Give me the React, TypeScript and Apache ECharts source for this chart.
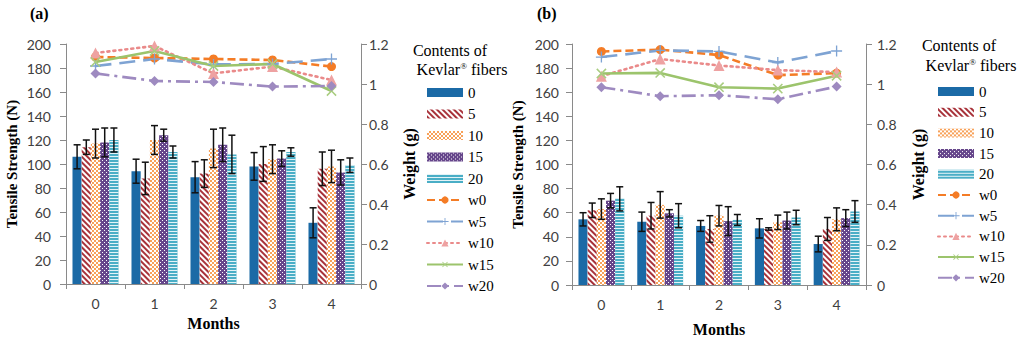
import React, { useEffect, useRef } from 'react';
import * as echarts from 'echarts';

// ---------- data ----------
const months = ['0', '1', '2', '3', '4'];
const barNames = ['0', '5', '10', '15', '20'];
const lineNames = ['w0', 'w5', 'w10', 'w15', 'w20'];

// Panel (a) tensile strength (N) and error half-widths
const aTs0 = [106, 94, 89, 98, 51];
const aTs5 = [114, 88, 92, 100, 96];
const aTs10 = [117, 120, 113, 104, 98];
const aTs15 = [118, 124, 116, 104.5, 93];
const aTs20 = [120, 110, 108, 110, 99];
const aErr0 = [10, 10, 13, 11.5, 12.5];
const aErr5 = [6, 13.5, 11.5, 14.5, 14];
const aErr10 = [12, 12, 16, 12, 13.5];
const aErr15 = [12, 5, 14, 6.5, 10.5];
const aErr20 = [10, 5, 16, 3.5, 6];
// Panel (a) weights (g)
const aW0 = [1.135, 1.13, 1.125, 1.12, 1.087];
const aW5 = [1.09, 1.125, 1.098, 1.1, 1.125];
const aW10 = [1.155, 1.19, 1.053, 1.087, 1.02];
const aW15 = [1.11, 1.165, 1.09, 1.1, 0.965];
const aW20 = [1.053, 1.015, 1.01, 0.987, 0.99];

// Panel (b)
const bTs0 = [54.5, 52.5, 49, 47, 34];
const bTs5 = [62, 57.5, 46.5, 46.5, 46.5];
const bTs10 = [63, 66.5, 57.5, 52, 54.5];
const bTs15 = [70, 59.5, 53, 53.5, 55.5];
const bTs20 = [71.5, 57.5, 54, 56, 61];
const bErr0 = [5.5, 8, 4.5, 8, 6.5];
const bErr5 = [6, 11, 11, 1, 9.5];
const bErr10 = [8.5, 11, 8.5, 6, 9.5];
const bErr15 = [6, 3, 12, 7, 7];
const bErr20 = [10, 10, 4.5, 6, 9];
const bW0 = [1.163, 1.172, 1.145, 1.045, 1.055];
const bW5 = [1.135, 1.168, 1.163, 1.108, 1.165];
const bW10 = [1.04, 1.125, 1.093, 1.07, 1.06];
const bW15 = [1.053, 1.056, 0.985, 0.978, 1.042];
const bW20 = [0.985, 0.94, 0.945, 0.925, 0.988];

const tsTicks = [0, 200, 20];
const wTicks = [0, 1.2, 0.2];

// ---------- styles ----------
const serif = 'Liberation Serif';
const sans = 'Lato';
const axisGray = '#8a8a8a';
const labelColor = '#404040';

const barColors = ['#1b6aa6', '#ffffff', '#ffffff', '#66468b', '#4aaec6'];
const barDecals: any[] = [
  null,
  { symbol: 'rect', symbolKeepAspect: false, symbolSize: 1, color: '#a8323a', dashArrayX: [1, 0], dashArrayY: [2, 2], rotation: Math.PI / 4 },
  { symbol: 'rect', symbolKeepAspect: false, symbolSize: 1, color: '#f8a25a', dashArrayX: [[2, 2], [0, 2, 2, 0]], dashArrayY: [2, 0] },
  { symbol: 'rect', symbolKeepAspect: false, symbolSize: 1, color: '#ffffff', dashArrayX: [[1, 3], [0, 2, 1, 1]], dashArrayY: [1, 1] },
  { symbol: 'rect', symbolKeepAspect: false, symbolSize: 1, color: 'rgba(255,255,255,0.85)', dashArrayX: [1, 0], dashArrayY: [1, 2] },
];

const plusPath = 'path://M4.4,0H5.6V4.4H10V5.6H5.6V10H4.4V5.6H0V4.4H4.4Z';
const lineStyles: any[] = [
  { color: '#f47c26', type: [8, 4], symbol: 'circle', size: 9, rotate: 0, itemColor: '#f47c26' },
  { color: '#7ea3d3', type: [16, 8], symbol: plusPath, size: 11, rotate: 0, itemColor: '#7ea3d3' },
  { color: '#ea8a8a', type: [2, 4], symbol: 'triangle', size: 11, rotate: 0, itemColor: '#eea2a2' },
  { color: '#9cc46c', type: 'solid', symbol: plusPath, size: 13, rotate: 45, itemColor: '#a9cd80' },
  { color: '#9e8ac0', type: [14, 5, 3, 5], symbol: 'diamond', size: 10, rotate: 0, itemColor: '#9e8ac0' },
];

const BAR_GAP_CAT = 0.22;

function buildPanel(p: number, tensile: number[][], errs: number[][], weights: number[][]) {
  const series: any[] = [];
  tensile.forEach((vals, k) => {
    const itemStyle: any = { color: barColors[k] };
    if (barDecals[k]) itemStyle.decal = barDecals[k];
    series.push({
      type: 'bar',
      name: barNames[k],
      xAxisIndex: p,
      yAxisIndex: p * 2,
      data: vals,
      barGap: '0%',
      barCategoryGap: BAR_GAP_CAT * 100 + '%',
      itemStyle,
      emphasis: { disabled: true },
      z: 2,
    });
  });
  const errData: number[][] = [];
  tensile.forEach((vals, k) => {
    vals.forEach((v, i) => errData.push([i, k, v - errs[k][i], v + errs[k][i]]));
  });
  series.push({
    type: 'custom',
    name: 'err' + p,
    xAxisIndex: p,
    yAxisIndex: p * 2,
    data: errData,
    encode: { x: 0, y: [2, 3] },
    z: 5,
    silent: true,
    renderItem: (params: any, api: any) => {
      const cat = api.value(0);
      const k = api.value(1);
      const lo = api.value(2);
      const hi = api.value(3);
      const catW = api.size([1, 0])[0];
      const bw = (catW * (1 - BAR_GAP_CAT)) / 5;
      const cx = api.coord([cat, 0])[0] + (k - 2) * bw;
      const yLo = api.coord([cat, lo])[1];
      const yHi = api.coord([cat, hi])[1];
      const cap = 3.5;
      const st = { stroke: '#111', lineWidth: 1.5 };
      return {
        type: 'group',
        children: [
          { type: 'line', shape: { x1: cx, y1: yLo, x2: cx, y2: yHi }, style: st },
          { type: 'line', shape: { x1: cx - cap, y1: yLo, x2: cx + cap, y2: yLo }, style: st },
          { type: 'line', shape: { x1: cx - cap, y1: yHi, x2: cx + cap, y2: yHi }, style: st },
        ],
      };
    },
  });
  weights.forEach((vals, k) => {
    const s = lineStyles[k];
    series.push({
      type: 'line',
      name: lineNames[k],
      xAxisIndex: p,
      yAxisIndex: p * 2 + 1,
      data: vals,
      symbol: s.symbol,
      symbolSize: s.size,
      symbolRotate: s.rotate,
      lineStyle: { color: s.color, width: 2.6, type: s.type, cap: k === 2 ? 'round' : 'butt' },
      itemStyle: { color: s.itemColor, borderWidth: 0 },
      emphasis: { disabled: true },
      z: 6,
    });
  });
  return series;
}

function makeAxes(p: number, tsNameGap: number, wNameGap: number, monthsGap: number, rightMargin: number, leftMargin: number) {
  const axisLine = { show: true, lineStyle: { color: axisGray, width: 1 } };
  const axisTick = { show: true, length: 6, lineStyle: { color: axisGray } };
  const xAxis = {
    type: 'category',
    gridIndex: p,
    data: months,
    boundaryGap: true,
    axisLine,
    axisTick: { show: true, length: 5, alignWithLabel: false, lineStyle: { color: axisGray } },
    axisLabel: { fontFamily: sans, fontSize: 14, color: labelColor, margin: 12 },
    name: 'Months',
    nameLocation: 'middle',
    nameGap: monthsGap,
    nameTextStyle: { fontFamily: serif, fontSize: 16, fontWeight: 'bold', color: '#000' },
  };
  const yLeft = {
    type: 'value',
    gridIndex: p,
    min: tsTicks[0],
    max: tsTicks[1],
    interval: tsTicks[2],
    axisLine,
    axisTick,
    splitLine: { show: false },
    axisLabel: { fontFamily: sans, fontSize: 14, color: labelColor, margin: leftMargin },
    name: 'Tensile Strength (N)',
    nameLocation: 'middle',
    nameGap: tsNameGap,
    nameTextStyle: { fontFamily: serif, fontSize: 15, fontWeight: 'bold', color: '#000' },
  };
  const yRight = {
    type: 'value',
    gridIndex: p,
    position: 'right',
    min: wTicks[0],
    max: wTicks[1],
    interval: wTicks[2],
    axisLine,
    axisTick,
    splitLine: { show: false },
    axisLabel: { fontFamily: sans, fontSize: 14, color: labelColor, margin: rightMargin, formatter: (v: number) => String(Math.round(v * 10) / 10) },
    name: 'Weight (g)',
    nameLocation: 'middle',
    nameGap: wNameGap,
    nameRotate: 90,
    nameTextStyle: { fontFamily: serif, fontSize: 16, fontWeight: 'bold', color: '#000' },
  };
  return { xAxis, yAxes: [yLeft, yRight] };
}

function makeLegend(left: number, top: number, gap: number) {
  return {
    orient: 'vertical',
    left,
    top,
    padding: 0,
    itemWidth: 36,
    itemHeight: 9,
    itemGap: gap,
    selectedMode: false,
    data: [...barNames.map((n) => ({ name: n, icon: 'rect' })), ...lineNames.map((n) => ({ name: n }))],
    textStyle: { fontFamily: serif, fontSize: 15, color: '#000', lineHeight: 15 },
  };
}

function titleTexts(cx1: number, y1: number, cx2: number, y2: number) {
  return [
    {
      type: 'text',
      x: cx1,
      y: y1,
      style: { text: 'Contents of', fontFamily: serif, fontSize: 16, fill: '#000', align: 'center', verticalAlign: 'middle' },
    },
    {
      type: 'text',
      x: cx2,
      y: y2,
      style: {
        text: '{n|Kevlar}{s|®}{n| fibers}',
        align: 'center',
        verticalAlign: 'middle',
        rich: {
          n: { fontFamily: serif, fontSize: 16, fill: '#000', color: '#000' },
          s: { fontFamily: serif, fontSize: 9, fill: '#000', color: '#000', verticalAlign: 'top', padding: [0, 0, 6, 0] },
        },
      },
    },
  ];
}

export default function App() {
  const ref = useRef<HTMLDivElement>(null);
  useEffect(() => {
    document.body.style.margin = '0';
    if (!ref.current) return;
    const chart = echarts.init(ref.current, undefined, { renderer: 'svg' });
    const axA = makeAxes(0, 47, 40, 31, 8, 15);
    const axB = makeAxes(1, 47, 44, 36, 11, 13);
    const series = [
      ...buildPanel(0, [aTs0, aTs5, aTs10, aTs15, aTs20], [aErr0, aErr5, aErr10, aErr15, aErr20], [aW0, aW5, aW10, aW15, aW20]),
      ...buildPanel(1, [bTs0, bTs5, bTs10, bTs15, bTs20], [bErr0, bErr5, bErr10, bErr15, bErr20], [bW0, bW5, bW10, bW15, bW20]),
    ];
    chart.setOption({
      animation: false,
      backgroundColor: '#ffffff',
      grid: [
        { left: 66, top: 44, width: 295, height: 240 },
        { left: 572, top: 44, width: 294, height: 241 },
      ],
      xAxis: [axA.xAxis, axB.xAxis],
      yAxis: [...axA.yAxes, ...axB.yAxes],
      legend: [makeLegend(426, 85, 6.5), makeLegend(937, 84, 5.7)],
      graphic: [
        { type: 'text', x: 30, y: 13, style: { text: '(a)', fontFamily: serif, fontSize: 16, fontWeight: 'bold', fill: '#000', verticalAlign: 'middle' } },
        { type: 'text', x: 537, y: 13, style: { text: '(b)', fontFamily: serif, fontSize: 16, fontWeight: 'bold', fill: '#000', verticalAlign: 'middle' } },
        ...titleTexts(450, 50, 462, 69),
        ...titleTexts(959, 45, 971, 65),
      ],
      series,
    });
    return () => chart.dispose();
  }, []);
  return <div ref={ref} style={{ position: 'absolute', left: 0, top: 0, width: 1024, height: 343 }} />;
}
